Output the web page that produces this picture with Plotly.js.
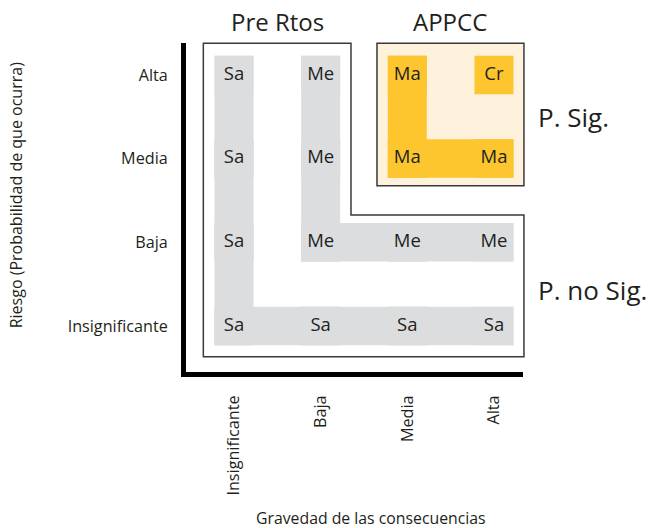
<!DOCTYPE html>
<html>
<head>
<meta charset="utf-8">
<script src="https://cdn.plot.ly/plotly-3.0.1.min.js"></script>
<style>html,body{margin:0;padding:0;background:#fff;}#chart{width:650px;height:528px;}</style>
</head>
<body>
<div id="chart"></div>
<script>
// Gravedad (x) and Riesgo (y) categories
const xCats = ['Insignificante', 'Baja', 'Media', 'Alta'];
const yCats = ['Insignificante', 'Baja', 'Media', 'Alta'];
// Risk level per cell, rows from y = Insignificante up to y = Alta
const levels = [
  ['Sa', 'Sa', 'Sa', 'Sa'],
  ['Sa', 'Me', 'Me', 'Me'],
  ['Sa', 'Me', 'Ma', 'Ma'],
  ['Sa', 'Me', 'Ma', 'Cr']
];
const levelColors = {Sa: '#dcdddf', Me: '#dcdddf', Ma: '#fdc62f', Cr: '#fdc62f'};
const groupTitles = ['Pre Rtos', 'APPCC'];
const sideLabels = ['P. Sig.', 'P. no Sig.'];

const FONT = 'Open Sans, Noto Sans, sans-serif';
const TXT = '#231f20';
const xRange = [-0.554, 3.335];
const yRange = [-0.55, 3.381];
const padX = 0.225, padY = 0.23;

const px = x => (x - xRange[0]) / (xRange[1] - xRange[0]);
const py = y => (y - yRange[0]) / (yRange[1] - yRange[0]);

const tx = [], ty = [], tt = [];
const shapes = [];
const n = xCats.length, m = yCats.length;

// Outline of "Pre Rtos" region (non-significant) and "APPCC" box (significant)
const L = 0 - 0.354, R1 = 1 + 0.35, R2 = (n - 1) + 0.346, T = (m - 1) + 0.377, N1 = 1 + 0.326, B = 0 - 0.367;
shapes.push({
  type: 'path', xref: 'paper', yref: 'paper', layer: 'below',
  path: `M${px(L)},${py(T)} L${px(R1)},${py(T)} L${px(R1)},${py(N1)} L${px(R2)},${py(N1)} L${px(R2)},${py(B)} L${px(L)},${py(B)} Z`,
  line: {color: '#3a3a3a', width: 1.5}, fillcolor: 'rgba(0,0,0,0)'
});
shapes.push({
  type: 'rect', xref: 'paper', yref: 'paper', layer: 'below',
  x0: px(2 - 0.35), x1: px(R2), y0: py(2 - 0.324), y1: py(T),
  line: {color: '#3a3a3a', width: 1.5}, fillcolor: '#fff2dc'
});

for (let j = 0; j < m; j++) {
  for (let i = 0; i < n; i++) {
    const lv = levels[j][i];
    const col = levelColors[lv];
    tx.push(i); ty.push(j); tt.push(lv);
    shapes.push({type: 'rect', xref: 'x', yref: 'y', layer: 'below', x0: i - padX, x1: i + padX, y0: j - padY, y1: j + padY, line: {width: 0}, fillcolor: col});
    if (i + 1 < n && levels[j][i + 1] === lv) {
      shapes.push({type: 'rect', xref: 'x', yref: 'y', layer: 'below', x0: i - padX, x1: i + 1 + padX, y0: j - padY, y1: j + padY, line: {width: 0}, fillcolor: col});
    }
    if (j + 1 < m && levels[j + 1][i] === lv) {
      shapes.push({type: 'rect', xref: 'x', yref: 'y', layer: 'below', x0: i - padX, x1: i + padX, y0: j - padY, y1: j + 1 + padY, line: {width: 0}, fillcolor: col});
    }
  }
}

const trace = {
  type: 'scatter', mode: 'text', x: tx, y: ty, text: tt,
  textposition: 'middle center',
  textfont: {family: FONT, size: 18.5, color: TXT},
  hoverinfo: 'skip', showlegend: false, cliponaxis: false
};

const annotations = [
  {text: groupTitles[0], xref: 'x', yref: 'paper', x: 0.5, y: py(3.381) + 0.064, showarrow: false, font: {family: FONT, size: 24, color: TXT}, xanchor: 'center', yanchor: 'middle'},
  {text: groupTitles[1], xref: 'x', yref: 'paper', x: 2.49, y: py(3.381) + 0.064, showarrow: false, font: {family: FONT, size: 24, color: TXT}, xanchor: 'center', yanchor: 'middle'},
  {text: sideLabels[0], xref: 'paper', yref: 'paper', x: 1.04, y: 0.775, showarrow: false, font: {family: FONT, size: 26, color: TXT}, xanchor: 'left', yanchor: 'middle'},
  {text: sideLabels[1], xref: 'paper', yref: 'paper', x: 1.04, y: 0.25, showarrow: false, font: {family: FONT, size: 26, color: TXT}, xanchor: 'left', yanchor: 'middle'},
  {text: 'Riesgo (Probabilidad de que ocurra)', xref: 'paper', yref: 'paper', x: -0.504, y: 0.5375, textangle: -90, showarrow: false, font: {family: FONT, size: 16, color: TXT}, xanchor: 'center', yanchor: 'middle'},
  {text: 'Gravedad de las consecuencias', xref: 'paper', yref: 'paper', x: 0.55, y: -0.444, showarrow: false, font: {family: FONT, size: 15.8, color: TXT}, xanchor: 'center', yanchor: 'middle'}
];

const axisCommon = {
  showgrid: false, zeroline: false, showline: true, linewidth: 5, linecolor: '#000',
  ticks: '', tickfont: {family: FONT, size: 16.2, color: TXT}, fixedrange: true
};

const layout = {
  width: 650, height: 528,
  margin: {l: 186, r: 127, t: 43, b: 156},
  paper_bgcolor: '#fff', plot_bgcolor: 'rgba(0,0,0,0)',
  xaxis: Object.assign({}, axisCommon, {range: xRange, tickvals: xCats.map((_, i) => i), ticktext: xCats, tickangle: -90, ticklabelstandoff: 12}),
  yaxis: Object.assign({}, axisCommon, {range: yRange, tickvals: yCats.map((_, i) => i), ticktext: yCats, ticklabelstandoff: 10}),
  shapes: shapes,
  annotations: annotations,
  showlegend: false
};

Plotly.newPlot('chart', [trace], layout, {displayModeBar: false, staticPlot: true});
</script>
</body>
</html>
